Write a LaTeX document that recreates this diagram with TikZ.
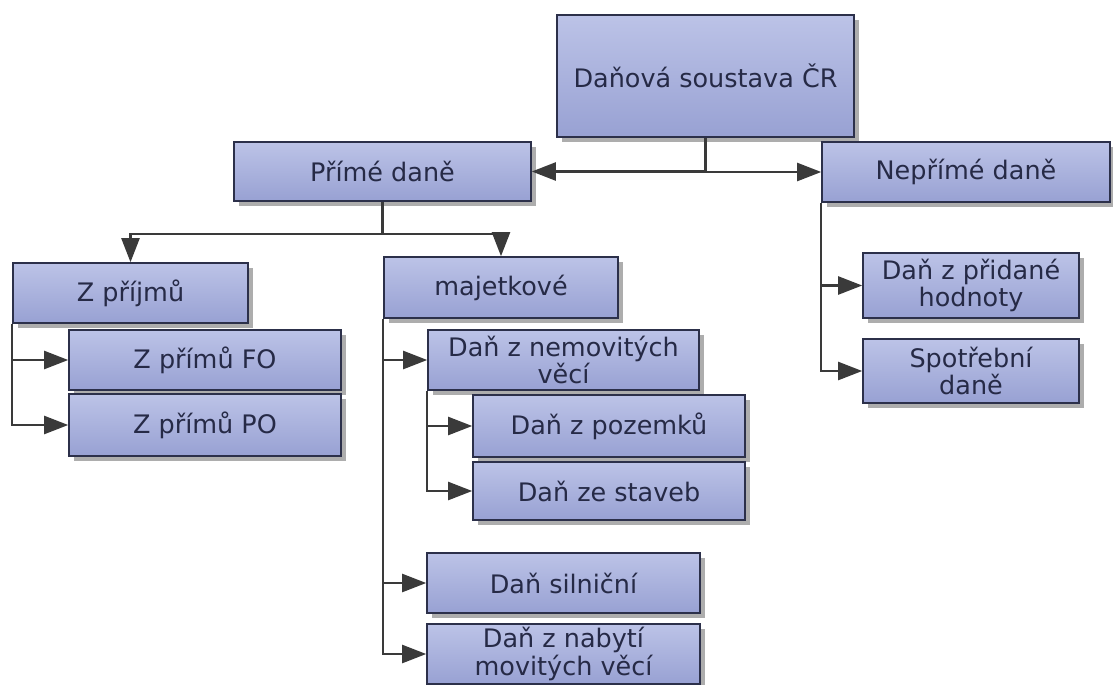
\documentclass[tikz,border=0pt]{standalone}
\usepackage{fontspec}
\setmainfont{DejaVu Sans}
\usetikzlibrary{arrows.meta,shadows}
\definecolor{boxTop}{RGB}{188,195,231}
\definecolor{boxBot}{RGB}{152,161,211}
\definecolor{boxEdge}{RGB}{44,48,74}
\definecolor{boxText}{RGB}{38,42,70}
\definecolor{linkGray}{RGB}{58,58,58}
\tikzset{taxpanel/.style={
  font=\fontsize{14.5}{15.5}\selectfont,
  taxbox/.style={rectangle, top color=boxTop, bottom color=boxBot, draw=boxEdge, line width=0.9pt,
    text=boxText, align=center, inner sep=0pt,
    drop shadow={shadow xshift=0.09cm, shadow yshift=-0.09cm, fill=black!40, opacity=0.8}},
  link/.style={-{Triangle[length=4.8mm, width=3.6mm]}, line width=1.3pt, linkGray},
}}

\begin{document}
\begin{tikzpicture}[taxpanel]
\useasboundingbox (0,0) rectangle (22.26,-13.68);

% =====================================================================
% top level
% =====================================================================
\node[taxbox, minimum width=5.94cm, minimum height=2.44cm] (root) at (14.11,-1.52) {Daňová soustava ČR};
\node[taxbox, minimum width=5.94cm, minimum height=1.18cm] (prime) at (7.65,-3.43) {Přímé daně};
\node[taxbox, minimum width=5.76cm, minimum height=1.20cm] (neprime) at (19.32,-3.44) {Nepřímé daně};
\draw[link] (root.south) |- (prime.east);
\draw[link] (root.south) |- (neprime.west);

% =====================================================================
% direct taxes: income
% =====================================================================
\node[taxbox, minimum width=4.70cm, minimum height=1.20cm] (zprijmu) at (2.61,-5.86) {Z příjmů};
\node[taxbox, minimum width=5.44cm, minimum height=1.20cm] (zfo) at (4.10,-7.20) {Z přímů FO};
\node[taxbox, minimum width=5.44cm, minimum height=1.24cm] (zpo) at (4.10,-8.50) {Z přímů PO};
\draw[link] (zprijmu.south west) |- (zfo.west);
\draw[link] (zprijmu.south west) |- (zpo.west);

% =====================================================================
% direct taxes: property
% =====================================================================
\node[taxbox, minimum width=4.68cm, minimum height=1.22cm] (majet) at (10.02,-5.75) {majetkové};
\draw[link] (prime.south) -- ++(0,-0.64) -| (zprijmu.north);
\draw[link] (prime.south) -- ++(0,-0.64) -| (majet.north);
\node[taxbox, minimum width=5.42cm, minimum height=1.20cm] (nemov) at (11.27,-7.20) {Daň z nemovitých\\ věcí};
\node[taxbox, minimum width=5.44cm, minimum height=1.24cm] (pozem) at (12.18,-8.52) {Daň z pozemků};
\node[taxbox, minimum width=5.44cm, minimum height=1.16cm] (staveb) at (12.18,-9.82) {Daň ze staveb};
\node[taxbox, minimum width=5.46cm, minimum height=1.20cm] (silnic) at (11.27,-11.66) {Daň silniční};
\node[taxbox, minimum width=5.46cm, minimum height=1.20cm] (nabyti) at (11.27,-13.08) {Daň z nabytí\\ movitých věcí};
\foreach \n in {nemov,silnic,nabyti}{ \draw[link] (majet.south west) |- (\n.west); }
\foreach \n in {pozem,staveb}{ \draw[link] (nemov.south west) |- (\n.west); }

% =====================================================================
% indirect taxes
% =====================================================================
\node[taxbox, minimum width=4.32cm, minimum height=1.30cm] (dph) at (19.42,-5.71) {Daň z přidané\\ hodnoty};
\node[taxbox, minimum width=4.32cm, minimum height=1.28cm] (spotreb) at (19.42,-7.42) {Spotřební\\ daně};
\foreach \n in {dph,spotreb}{ \draw[link] (neprime.south west) |- (\n.west); }

\end{tikzpicture}
\end{document}
